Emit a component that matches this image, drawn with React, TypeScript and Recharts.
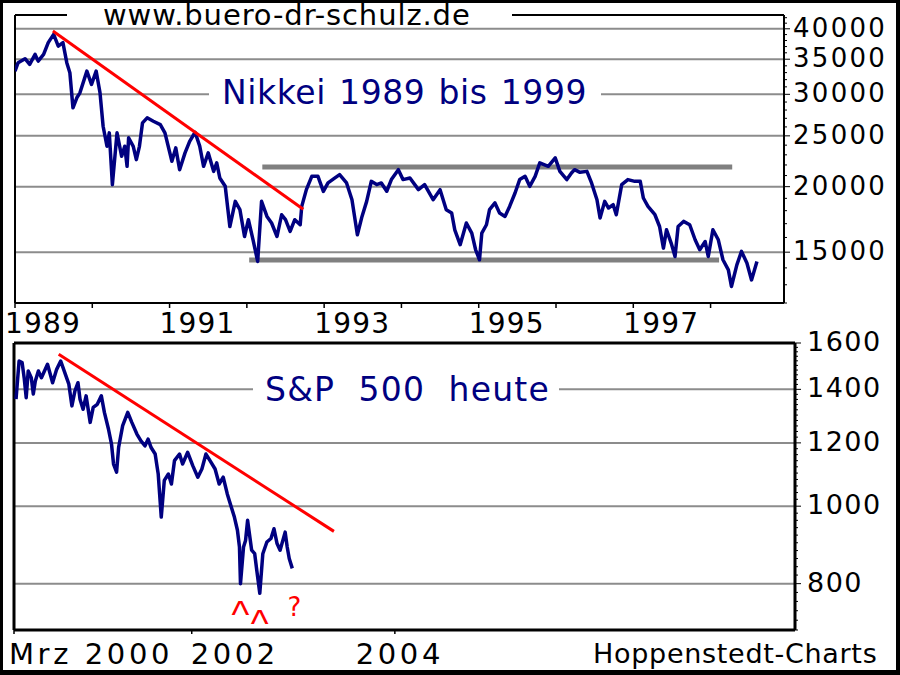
import React from "react";
import { LineChart, Line, XAxis, YAxis, ReferenceLine, ReferenceDot } from "recharts";

const FONT = "'DejaVu Sans', sans-serif";
const NAVY = "#000080";
const RED = "#ff0000";
const GRID = "#8c8c8c";
const BAND = "#808080";

// Nikkei 225, decimal years / index points
const nikkeiT = [
  1989.0, 1989.04, 1989.13, 1989.19, 1989.26, 1989.3, 1989.37, 1989.43, 1989.5, 1989.56,
  1989.62, 1989.67, 1989.71, 1989.75, 1989.8, 1989.84, 1989.93, 1989.99, 1990.05, 1990.1,
  1990.14, 1990.19, 1990.22, 1990.26, 1990.32, 1990.38, 1990.42, 1990.45, 1990.47, 1990.53,
  1990.57, 1990.61, 1990.65, 1990.71, 1990.79, 1990.88, 1990.94, 1991.03, 1991.08, 1991.13,
  1991.2, 1991.26, 1991.33, 1991.39, 1991.44, 1991.5, 1991.57, 1991.61, 1991.65, 1991.72,
  1991.78, 1991.85, 1991.91, 1991.97, 1992.02, 1992.08, 1992.14, 1992.19, 1992.26, 1992.32,
  1992.39, 1992.45, 1992.5, 1992.56, 1992.62, 1992.69, 1992.71, 1992.77, 1992.84, 1992.92,
  1992.99, 1993.05, 1993.14, 1993.2, 1993.29, 1993.36, 1993.43, 1993.49, 1993.55, 1993.61,
  1993.68, 1993.74, 1993.81, 1993.87, 1993.96, 1994.02, 1994.11, 1994.22, 1994.3, 1994.41,
  1994.5, 1994.58, 1994.65, 1994.69, 1994.76, 1994.84, 1994.91, 1994.96, 1995.01, 1995.04,
  1995.1, 1995.14, 1995.21, 1995.27, 1995.34, 1995.4, 1995.47, 1995.53, 1995.6, 1995.66,
  1995.73, 1995.79, 1995.9, 1995.99, 1996.05, 1996.14, 1996.2, 1996.24, 1996.31, 1996.4,
  1996.46, 1996.53, 1996.57, 1996.63, 1996.68, 1996.74, 1996.78, 1996.85, 1996.93, 1997.02,
  1997.09, 1997.13, 1997.19, 1997.28, 1997.34, 1997.39, 1997.43, 1997.49, 1997.54, 1997.58,
  1997.65, 1997.73, 1997.8, 1997.86, 1997.93, 1997.97, 1998.03, 1998.1, 1998.16, 1998.23,
  1998.27, 1998.34, 1998.4, 1998.47, 1998.53, 1998.6,
];
const nikkeiV = [
  33200, 34470, 35080, 34210, 35750, 34710, 35750, 37640, 39030, 37080,
  37640, 34470, 32980, 28270, 29550, 30200, 33220, 31330, 33220, 30200,
  26080, 23880, 25330, 20180, 25330, 22850, 23880, 21870, 24780, 23880,
  22520, 23880, 26470, 27060, 26660, 26270, 25330, 22360, 23710, 21550,
  23200, 24410, 25400, 23900, 21870, 23200, 21390, 22200, 20780, 20030,
  16790, 18750, 18080, 16070, 17300, 15840, 14400, 18750, 17550, 17050,
  16070, 17680, 17300, 16430, 17300, 16920, 18340, 19740, 20930, 20930,
  19590, 20330, 20780, 21080, 20330, 18890, 16190, 17550, 18750, 20470,
  20180, 20330, 19600, 20630, 21550, 20630, 20780, 19740, 20180, 18890,
  19740, 18080, 17820, 16550, 15500, 17050, 16310, 15160, 14510, 16310,
  16920, 18080, 18620, 17820, 17550, 18340, 19450, 20630, 20930, 20030,
  20930, 22200, 21870, 22690, 21390, 20630, 21240, 21550, 21300, 21390,
  20330, 18890, 17430, 18750, 18210, 18480, 17680, 20180, 20630, 20470,
  20470, 19030, 18340, 17680, 16790, 15270, 16550, 15610, 14720, 16790,
  17170, 16920, 15840, 15160, 15720, 14720, 16550, 15840, 14510, 13880,
  12900, 14190, 15050, 14300, 13280, 14400,
];

// S&P 500, decimal years / index points
const spxT = [
  2000.27, 2000.3, 2000.33, 2000.35, 2000.37, 2000.39, 2000.42, 2000.44, 2000.46, 2000.49,
  2000.52, 2000.55, 2000.58, 2000.63, 2000.67, 2000.71, 2000.75, 2000.79, 2000.82, 2000.85,
  2000.88, 2000.9, 2000.93, 2000.96, 2001.0, 2001.03, 2001.07, 2001.11, 2001.14, 2001.18,
  2001.21, 2001.23, 2001.26, 2001.28, 2001.32, 2001.37, 2001.41, 2001.46, 2001.5, 2001.54,
  2001.57, 2001.6, 2001.64, 2001.66, 2001.67, 2001.7, 2001.73, 2001.77, 2001.8, 2001.83,
  2001.88, 2001.91, 2001.96, 2002.01, 2002.06, 2002.1, 2002.14, 2002.18, 2002.23, 2002.27,
  2002.31, 2002.35, 2002.39, 2002.42, 2002.45, 2002.47, 2002.48, 2002.51, 2002.53, 2002.55,
  2002.59, 2002.62, 2002.64, 2002.67, 2002.7, 2002.74, 2002.78, 2002.81, 2002.84, 2002.87,
  2002.92, 2002.94, 2002.96, 2002.99,
];
const spxV = [
  1361, 1519, 1512, 1448, 1367, 1476, 1448, 1381, 1434, 1476,
  1448, 1476, 1505, 1427, 1483, 1519, 1469, 1421, 1335, 1394,
  1427, 1361, 1322, 1374, 1273, 1329, 1341, 1374, 1310, 1249,
  1196, 1129, 1103, 1184, 1261, 1310, 1273, 1231, 1207, 1190,
  1213, 1184, 1162, 1118, 1097, 969, 1077, 1097, 1066, 1140,
  1162, 1129, 1168, 1124, 1087, 1113, 1162, 1140, 1113, 1066,
  1087, 1036, 997, 969, 933, 889, 800, 889, 906, 960,
  881, 872, 832, 778, 872, 902, 911, 937, 898, 881,
  928, 889, 860, 836,
];

// trend lines and support / resistance bands
const nikkeiTrend = [
  { x: 1989.49, y: 39630 },
  { x: 1992.73, y: 18110 },
];
const nikkeiTop = [
  { x: 1992.2, y: 21800 },
  { x: 1998.28, y: 21800 },
];
const nikkeiBottom = [
  { x: 1992.03, y: 14500 },
  { x: 1998.11, y: 14500 },
];
const spxTrend = [
  { x: 2000.69, y: 1549 },
  { x: 2003.4, y: 930 },
];
const spxMarks = [
  { t: 2002.48, v: 800, text: "^" },
  { t: 2002.67, v: 778, text: "^" },
  { t: 2003.01, v: 836, text: "?" },
];

// axes
const nikkeiDomainX = [1989, 1998.95];
const nikkeiDomainY = [12000, 42500];
const nikkeiYears = [1989, 1990, 1991, 1992, 1993, 1994, 1995, 1996, 1997, 1998];
const nikkeiLabelYears = [1989, 1991, 1993, 1995, 1997];
const nikkeiMajor = [15000, 20000, 25000, 30000, 35000, 40000];
const nikkeiTicks = Array.from({ length: 31 }, (_, i) => 12000 + i * 1000);
const spxDomainX = [2000.25, 2007.94];
const spxDomainY = [700, 1600];
const spxTickValues = [2000.25, 2002, 2004];
const spxTickLabels = ["Mrz 2000", "2002", "2004"];
const spxMajor = [800, 1000, 1200, 1400, 1600];
const spxTicks = Array.from({ length: 46 }, (_, i) => 700 + i * 20);

type TickProps = { x?: number; y?: number; payload?: { value: number } };

function NikkeiXTick({ x = 0, y = 0, payload }: TickProps) {
  const year = payload?.value ?? 0;
  return (
    <g>
      <line x1={x} y1={y} x2={x} y2={y + 5} stroke="#000" strokeWidth={1.5} />
      {nikkeiLabelYears.includes(year) && (
        <text x={x - 10} y={y + 30} fontSize={28} letterSpacing={1.2} fontFamily={FONT} fill="#000">
          {year}
        </text>
      )}
    </g>
  );
}

function SpxXTick({ x = 0, y = 0, payload }: TickProps) {
  const i = spxTickValues.indexOf(payload?.value ?? 0);
  const anchor = i === 2 ? "middle" : "start";
  const dx = i === 0 ? -5 : i === 1 ? -1 : 5;
  return (
    <g>
      <line x1={x} y1={y} x2={x} y2={y + 4} stroke="#000" strokeWidth={1.5} />
      <text
        x={x + dx}
        y={y + 34}
        fontSize={29}
        letterSpacing={3.6}
        textAnchor={anchor}
        fontFamily={FONT}
        fill="#000"
      >
        {spxTickLabels[i]}
      </text>
    </g>
  );
}

function makeRightTick(majors: number[], gap: number, fs: number, ls: number) {
  return function RightTick({ x = 0, y = 0, payload }: TickProps) {
    const v = payload?.value ?? 0;
    const major = majors.includes(v);
    return (
      <g>
        <line x1={x} y1={y} x2={x + (major ? 6 : 3)} y2={y} stroke="#000" strokeWidth={1} />
        {major && (
          <text x={x + gap} y={y + 8} fontSize={fs} letterSpacing={ls} fontFamily={FONT} fill="#000">
            {v}
          </text>
        )}
      </g>
    );
  };
}

function LeftTick({ x = 0, y = 0 }: TickProps) {
  return <line x1={x - 2} y1={y} x2={x} y2={y} stroke="#000" strokeWidth={1} />;
}

const NikkeiYTick = makeRightTick(nikkeiMajor, 9, 26, 2.3);
const SpxYTick = makeRightTick(spxMajor, 12, 27, 1.5);

export default function App() {
  const nikkeiData = nikkeiT.map((t, i) => ({ t, v: nikkeiV[i] }));
  const spxData = spxT.map((t, i) => ({ t, v: spxV[i] }));

  return (
    <div
      style={{
        position: "absolute",
        left: 0,
        top: 0,
        width: 900,
        height: 675,
        background: "#fff",
        overflow: "hidden",
        fontFamily: FONT,
      }}
    >
      {/* Nikkei panel */}
      <div style={{ position: "absolute", left: 0, top: 0 }}>
        <LineChart width={900} height={340} data={nikkeiData} margin={{ top: 15, right: 0, bottom: 0, left: 15 }}>
          <XAxis
            dataKey="t"
            type="number"
            domain={nikkeiDomainX}
            allowDataOverflow
            ticks={nikkeiYears}
            interval={0}
            height={37}
            tickSize={0}
            tickMargin={0}
            tickLine={false}
            axisLine={{ stroke: "#000", strokeWidth: 2 }}
            tick={(p: TickProps) => <NikkeiXTick {...p} />}
          />
          <YAxis
            orientation="right"
            type="number"
            scale="log"
            domain={nikkeiDomainY}
            allowDataOverflow
            ticks={nikkeiTicks}
            interval={0}
            width={116}
            tickSize={0}
            tickMargin={0}
            tickLine={false}
            axisLine={{ stroke: "#000", strokeWidth: 2 }}
            tick={(p: TickProps) => <NikkeiYTick {...p} />}
          />
          <YAxis
            yAxisId="left"
            orientation="left"
            type="number"
            scale="log"
            domain={nikkeiDomainY}
            allowDataOverflow
            ticks={nikkeiTicks}
            interval={0}
            width={0}
            tickSize={0}
            tickMargin={0}
            tickLine={false}
            axisLine={{ stroke: "#000", strokeWidth: 2 }}
            tick={(p: TickProps) => <LeftTick {...p} />}
          />
          {nikkeiMajor.map((v) => (
            <ReferenceLine key={v} y={v} stroke={GRID} strokeWidth={2} zIndex={-50} />
          ))}
          <ReferenceLine y={nikkeiDomainY[1]} stroke="#000" strokeWidth={2} zIndex={-10} />
          <ReferenceLine x={nikkeiDomainX[0]} stroke="#000" strokeWidth={2} zIndex={-10} />
          <ReferenceLine segment={nikkeiTop} stroke={BAND} strokeWidth={5} zIndex={-40} />
          <ReferenceLine segment={nikkeiBottom} stroke={BAND} strokeWidth={5} zIndex={-40} />
          <Line
            dataKey="v"
            type="linear"
            stroke={NAVY}
            strokeWidth={3.5}
            strokeLinejoin="round"
            dot={false}
            activeDot={false}
            isAnimationActive={false}
          />
          <ReferenceLine segment={nikkeiTrend} stroke={RED} strokeWidth={3} zIndex={900} />
        </LineChart>
      </div>

      {/* S&P 500 panel */}
      <div style={{ position: "absolute", left: 0, top: 320 }}>
        <LineChart width={900} height={355} data={spxData} margin={{ top: 23, right: 0, bottom: 0, left: 14 }}>
          <XAxis
            dataKey="t"
            type="number"
            domain={spxDomainX}
            allowDataOverflow
            ticks={spxTickValues}
            interval={0}
            height={45}
            tickSize={0}
            tickMargin={0}
            tickLine={false}
            axisLine={{ stroke: "#000", strokeWidth: 3 }}
            tick={(p: TickProps) => <SpxXTick {...p} />}
          />
          <YAxis
            orientation="right"
            type="number"
            scale="log"
            domain={spxDomainY}
            allowDataOverflow
            ticks={spxTicks}
            interval={0}
            width={105}
            tickSize={0}
            tickMargin={0}
            tickLine={false}
            axisLine={{ stroke: "#000", strokeWidth: 3 }}
            tick={(p: TickProps) => <SpxYTick {...p} />}
          />
          {spxMajor.map((v) => (
            <ReferenceLine key={v} y={v} stroke={GRID} strokeWidth={2} zIndex={-50} />
          ))}
          <ReferenceLine y={spxDomainY[1]} stroke="#000" strokeWidth={3} zIndex={-10} />
          <ReferenceLine x={spxDomainX[0]} stroke="#000" strokeWidth={3} zIndex={-10} />
          <Line
            dataKey="v"
            type="linear"
            stroke={NAVY}
            strokeWidth={3.5}
            strokeLinejoin="round"
            dot={false}
            activeDot={false}
            isAnimationActive={false}
          />
          <ReferenceLine segment={spxTrend} stroke={RED} strokeWidth={3} zIndex={900} />
          {spxMarks.map((m) => (
            <ReferenceDot
              key={m.t}
              x={m.t}
              y={m.v}
              r={0}
              ifOverflow="visible"
              zIndex={900}
              shape={(p: { cx?: number; cy?: number }) => (
                <text
                  x={p.cx}
                  y={(p.cy ?? 0) + (m.text === "?" ? 48 : 44)}
                  textAnchor="middle"
                  fontSize={m.text === "?" ? 26 : 38}
                  fontFamily={m.text === "?" ? FONT : "'Liberation Sans', sans-serif"}
                  fill={RED}
                >
                  {m.text}
                </text>
              )}
            />
          ))}
        </LineChart>
      </div>

      {/* titles */}
      <svg width={900} height={675} style={{ position: "absolute", left: 0, top: 0, pointerEvents: "none" }}>
        <rect x={67} y={3} width={445} height={24} fill="#fff" />
        <text x={103} y={25} fontSize={29} letterSpacing={0.9} fontFamily={FONT} fill="#000">
          www.buero-dr-schulz.de
        </text>
        <rect x={209} y={80} width={392} height={28} fill="#fff" />
        <text x={222} y={104} fontSize={33} letterSpacing={0.6} wordSpacing={2} fontFamily={FONT} fill={NAVY}>
          Nikkei 1989 bis 1999
        </text>
        <rect x={253} y={376} width={306} height={28} fill="#fff" />
        <text x={265} y={401} fontSize={33} letterSpacing={1.2} fontFamily={FONT} fill={NAVY} style={{ whiteSpace: "pre" }}>
          {"S&P  500  heute"}
        </text>
        <text x={593} y={663} fontSize={27} letterSpacing={0.7} fontFamily={FONT} fill="#000">
          Hoppenstedt-Charts
        </text>
      </svg>

      {/* outer frame */}
      <div
        style={{
          position: "absolute",
          left: 0,
          top: 0,
          width: 900,
          height: 675,
          boxSizing: "border-box",
          borderStyle: "solid",
          borderColor: "#000",
          borderWidth: "3px 4px 5px 3px",
          pointerEvents: "none",
        }}
      />
    </div>
  );
}
